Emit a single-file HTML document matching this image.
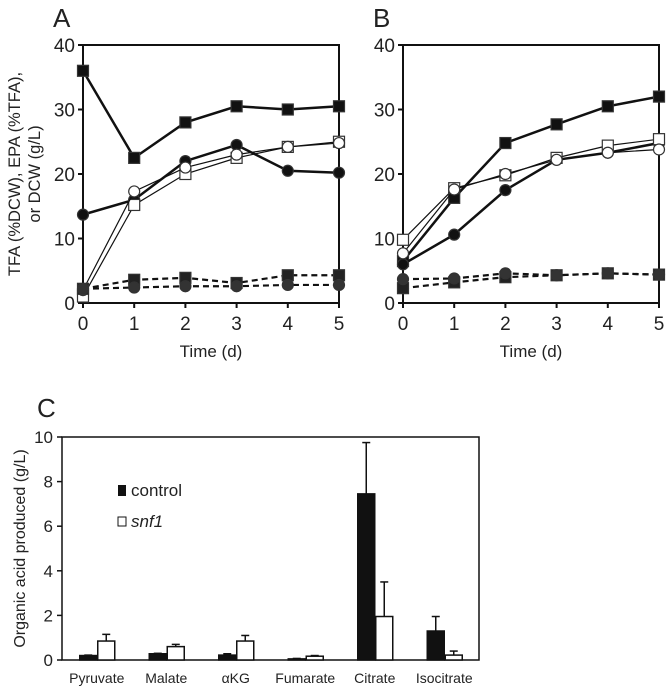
<!DOCTYPE html>
<html><head><meta charset="utf-8"><style>
body{margin:0;background:#fff;width:666px;height:688px;overflow:hidden}
svg text{font-family:"Liberation Sans",sans-serif;fill:#222}
</style></head><body>
<svg id="fig" width="666" height="688" xmlns="http://www.w3.org/2000/svg"></svg>
<script>
const days=[0,1,2,3,4,5];
const yTicksAB=[0,10,20,30,40];
const aFilledSq=[36,22.5,28,30.5,30,30.5];
const aFilledCi=[13.7,16,22,24.5,20.5,20.2];
const aOpenSq=[1,15.2,20,22.5,24.2,25];
const aOpenCi=[2,17.3,21,23,24.2,24.8];
const aDashSq=[2.2,3.6,3.9,3.1,4.3,4.3];
const aDashCi=[2.2,2.4,2.6,2.6,2.8,2.8];
const bFilledSq=[6.5,16.3,24.8,27.7,30.5,32];
const bFilledCi=[6,10.6,17.5,22.2,23.3,24.8];
const bOpenSq=[9.8,17.8,19.8,22.5,24.4,25.4];
const bOpenCi=[7.7,17.6,20,22.2,23.3,23.8];
const bDashSq=[2.3,3.2,4,4.3,4.6,4.4];
const bDashCi=[3.7,3.8,4.6,4.3,4.6,4.4];
const acids=["Pyruvate","Malate","αKG","Fumarate","Citrate","Isocitrate"];
const controlVals=[0.2,0.28,0.22,0.05,7.45,1.3];
const controlErr=[0.02,0.02,0.06,0.02,2.3,0.65];
const snf1Vals=[0.85,0.6,0.85,0.17,1.95,0.22];
const snf1Err=[0.3,0.1,0.25,0.03,1.55,0.18];
const yTicksC=[0,2,4,6,8,10];

const NS="http://www.w3.org/2000/svg";
const svg=document.getElementById('fig');
function mk(tag,attrs,parent,text){const e=document.createElementNS(NS,tag);for(const k in attrs)e.setAttribute(k,attrs[k]);if(text!==undefined)e.textContent=text;(parent||svg).appendChild(e);return e;}

function panel(id,label,x0,x1,yTop,yBot,series,showYTitle){
  const g=mk('g',{});
  
  
  const sx=d=>x0+(x1-x0)*d/5, sy=v=>yBot-(yBot-yTop)*v/40;
  const t=mk('text',{x:x0-30,y:27,'font-size':26},g,label);
  
  const box=mk('rect',{x:x0,y:yTop,width:x1-x0,height:yBot-yTop,fill:'none',stroke:'#111','stroke-width':2},g);
  
  yTicksAB.forEach(v=>{
    mk('line',{x1:x0-5,x2:x0,y1:sy(v),y2:sy(v),stroke:'#111','stroke-width':2},g);
    const tl=mk('text',{x:x0-8,y:sy(v)+7,'font-size':19,'text-anchor':'end'},g,v);
    
  });
  days.forEach(d=>{
    mk('line',{x1:sx(d),x2:sx(d),y1:yBot,y2:yBot+5,stroke:'#111','stroke-width':2},g);
    const tl=mk('text',{x:sx(d),y:yBot+27,'font-size':19,'text-anchor':'middle'},g,d);
    
  });
  const xt=mk('text',{x:(x0+x1)/2,y:yBot+54,'font-size':17,'text-anchor':'middle'},g,'Time (d)');
  
  if(showYTitle){
    const yt=mk('text',{'font-size':16.5,'text-anchor':'middle'},g);
    
    const cx=(yTop+yBot)/2;
    mk('tspan',{x:-cx,y:20},yt,'TFA (%DCW), EPA (%TFA),');
    mk('tspan',{x:-cx,y:40},yt,'or DCW (g/L)');
    yt.setAttribute('transform','rotate(-90)');
  }
  series.forEach(s=>{
    const sg=mk('g',{},g);
    
    const pts=s.data.map((v,i)=>sx(days[i])+','+sy(v)).join(' ');
    mk('polyline',{points:pts,fill:'none',stroke:'#111','stroke-width':s.w,'stroke-dasharray':s.dash||'none'},sg);
    s.data.forEach((v,i)=>{
      const cx=sx(days[i]),cy=sy(v);
      let m;
      if(s.shape==='sq') m=mk('rect',{x:cx-5.5,y:cy-5.5,width:11,height:11,fill:s.fill,stroke:'#333','stroke-width':1.2},sg);
      else m=mk('circle',{cx:cx,cy:cy,r:5.5,fill:s.fill,stroke:'#333','stroke-width':1.2},sg);
      
    });
  });
}
function series(p,a){return [
  {name:'dcw-filled-square-'+p,data:a[0],shape:'sq',fill:'#111',w:2.5},
  {name:'tfa-filled-circle-'+p,data:a[1],shape:'ci',fill:'#111',w:2.5},
  {name:'open-square-'+p,data:a[2],shape:'sq',fill:'#fff',w:1.2},
  {name:'open-circle-'+p,data:a[3],shape:'ci',fill:'#fff',w:1.2},
  {name:'dashed-square-'+p,data:a[4],shape:'sq',fill:'#222',w:2.2,dash:'6,4'},
  {name:'dashed-circle-'+p,data:a[5],shape:'ci',fill:'#333',w:2.2,dash:'6,4'}];}
panel('a','A',83,339,45,303,series('a',[aFilledSq,aFilledCi,aOpenSq,aOpenCi,aDashSq,aDashCi]),true);
panel('b','B',403,659,45,303,series('b',[bFilledSq,bFilledCi,bOpenSq,bOpenCi,bDashSq,bDashCi]),false);

// Panel C
(function(){
  const x0=62,x1=479,yTop=437,yBot=660;
  const g=mk('g',{});
  
  const sy=v=>yBot-(yBot-yTop)*v/10;
  const step=(x1-x0)/acids.length;
  const cxOf=i=>x0+step*(i+0.5);
  const lab=mk('text',{x:37,y:417,'font-size':26},g,'C');
  
  const box=mk('rect',{x:x0,y:yTop,width:x1-x0,height:yBot-yTop,fill:'none',stroke:'#111','stroke-width':1.5},g);
  
  yTicksC.forEach(v=>{
    mk('line',{x1:x0-5,x2:x0,y1:sy(v),y2:sy(v),stroke:'#111','stroke-width':1.5},g);
    const t=mk('text',{x:x0-9,y:sy(v)+6,'font-size':17,'text-anchor':'end'},g,v);
    
  });
  const yt=mk('text',{transform:'rotate(-90)',x:-(yTop+yBot)/2,y:25,'font-size':16,'text-anchor':'middle'},g,'Organic acid  produced (g/L)');
  
  const bw=17;
  acids.forEach((a,i)=>{
    const c=cxOf(i);
    [[controlVals,controlErr,'#111',c-bw,'bar-control-'],[snf1Vals,snf1Err,'#fff',c+1,'bar-snf1-']].forEach(([vals,errs,fill,bx,nm])=>{
      const top=vals[i]+errs[i];
      mk('line',{x1:bx+bw/2,x2:bx+bw/2,y1:sy(vals[i]),y2:sy(top),stroke:'#111','stroke-width':1.5},g);
      mk('line',{x1:bx+bw/2-4,x2:bx+bw/2+4,y1:sy(top),y2:sy(top),stroke:'#111','stroke-width':1.5},g);
      const r=mk('rect',{x:bx,y:sy(vals[i]),width:bw,height:sy(0)-sy(vals[i]),fill:fill,stroke:'#111','stroke-width':1.5},g);
      
    });
    const t=mk('text',{x:c,y:yBot+23,'font-size':14,'text-anchor':'middle'},g,a);
    
  });
  const lg=mk('g',{},g);
  
  mk('rect',{x:118,y:485,width:8,height:11,fill:'#111'},lg);
  mk('text',{x:131,y:496,'font-size':17},lg,'control');
  mk('rect',{x:118,y:517,width:8,height:9,fill:'#fff',stroke:'#111','stroke-width':1},lg);
  mk('text',{x:131,y:527,'font-size':17,'font-style':'italic'},lg,'snf1');
})();
</script>
</body></html>
